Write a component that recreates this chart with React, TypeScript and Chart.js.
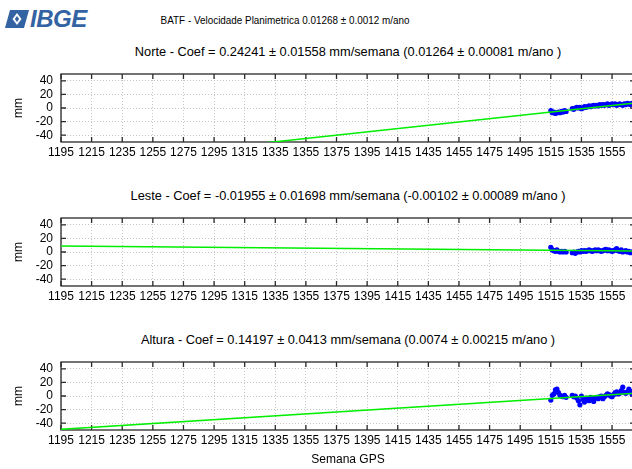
import React, { useEffect, useRef } from "react";
import { Chart, registerables } from "chart.js";

Chart.register(...registerables);

const FONT = "'Liberation Sans', Arial, Helvetica, sans-serif";

const weeks = [
  1515, 1516, 1517, 1518, 1519, 1520, 1521, 1522, 1523, 1524, 1525,
  1529, 1530, 1531, 1532, 1533, 1534, 1535, 1536, 1537, 1538,
  1539, 1540, 1541, 1542, 1543, 1544, 1545, 1546, 1547, 1548,
  1549, 1550, 1551, 1552, 1553, 1554, 1555, 1556, 1557, 1558,
  1559, 1560, 1561, 1562, 1563, 1564, 1565, 1566, 1567, 1568,
  1569, 1570,
];

const norte = [
  -4, -7, -6, -8, -7, -6, -7, -5, -6, -4, -5,
  -1, -2, 0, 1, 0, 1, -1, 0, 2, 1,
  2, 3, 2, 3, 4, 3, 4, 3, 5, 4,
  5, 4, 5, 6, 4, 5, 6, 5, 6, 4,
  5, 6, 5, 4, 6, 5, 7, 6, 5, 7,
  6, 7,
];

const leste = [
  7, 3, 2, 1, 3, 1, 0, 1, 0, 1, 0,
  -1, 0, -2, 0, 1, 0, 2, 1, 2, 1,
  2, 3, 2, 1, 2, 3, 2, 3, 2, 1,
  2, 3, 4, 2, 3, 2, 1, 2, 3, 5,
  2, 1, 3, 0, 1, 2, 0, 1, -1, 0,
  1, 0,
];

const altura = [
  -6, 1, 3, 9, 10, 5, 1, 0, -1, 1, -2,
  1, -1, 0, -3, -7, -13, 0, -5, -9, -3,
  -5, -7, -2, -4, -8, -3, -2, -4, -1, 0,
  -4, -1, 1, 3, 2, 0, -1, 2, 5, 6,
  3, 4, 8, 13, 5, 4, 6, 10, 7, 3,
  5, 4,
];

const fitWeeks = [1195, 1570];
const norteFit = [-83.6, 7.3];
const lesteFit = [8.7, 1.4];
const alturaFit = [-49, 4.2];

const xTicks = [
  1195, 1215, 1235, 1255, 1275, 1295, 1315, 1335, 1355, 1375,
  1395, 1415, 1435, 1455, 1475, 1495, 1515, 1535, 1555,
];
const yTicks = [-40, -20, 0, 20, 40];
const X_MIN = 1195;
const X_MAX = 1570;
const Y_MIN = -50;
const Y_MAX = 50;

const mainTitle = "BATF - Velocidade Planimetrica 0.01268 \u00b1 0.0012 m/ano";
const panelTitles = [
  "Norte - Coef = 0.24241 \u00b1 0.01558 mm/semana (0.01264 \u00b1 0.00081 m/ano )",
  "Leste - Coef = -0.01955 \u00b1 0.01698 mm/semana (-0.00102 \u00b1 0.00089 m/ano )",
  "Altura - Coef = 0.14197 \u00b1 0.0413 mm/semana (0.0074 \u00b1 0.00215 m/ano )",
];

const CANVAS_W = 645;
const PAD_TOP = 6;
const PLOT_H = 68;
const TICK_LEN = 5;

const framePlugin = {
  id: "gnuFrame",
  beforeDatasetsDraw(chart: any) {
    const { ctx, chartArea, scales } = chart;
    const { left, right, top, bottom } = chartArea;
    const x = scales.x;
    const y = scales.y;
    ctx.save();
    ctx.strokeStyle = "#2a2a2a";
    ctx.lineWidth = 1.3;
    ctx.strokeRect(left, top, right - left, bottom - top);
    ctx.beginPath();
    xTicks.forEach((v) => {
      const px = x.getPixelForValue(v);
      ctx.moveTo(px, bottom);
      ctx.lineTo(px, bottom - TICK_LEN);
      ctx.moveTo(px, top);
      ctx.lineTo(px, top + TICK_LEN);
    });
    yTicks.forEach((v) => {
      const py = y.getPixelForValue(v);
      ctx.moveTo(left, py);
      ctx.lineTo(left + TICK_LEN, py);
      ctx.moveTo(right, py);
      ctx.lineTo(right - TICK_LEN, py);
    });
    ctx.stroke();
    ctx.restore();
  },
};

type PanelProps = {
  top: number;
  values: number[];
  fit: number[];
  xTitle?: string;
};

function Panel({ top, values, fit, xTitle }: PanelProps) {
  const ref = useRef<HTMLCanvasElement | null>(null);
  const xh = xTitle ? 40 : 22;
  const height = PAD_TOP + PLOT_H + xh;

  useEffect(() => {
    if (!ref.current) return;
    const chart = new Chart(ref.current, {
      type: "scatter",
      data: {
        datasets: [
          {
            data: weeks.map((w, i) => ({ x: w, y: values[i] })),
            pointRadius: 2.6,
            pointBackgroundColor: "#0000ff",
            pointBorderColor: "#0000ff",
            pointBorderWidth: 0,
            showLine: false,
            order: 1,
          } as any,
          {
            data: fitWeeks.map((w, i) => ({ x: w, y: fit[i] })),
            showLine: true,
            borderColor: "#00ee00",
            borderWidth: 1.5,
            pointRadius: 0,
            order: 0,
          } as any,
        ],
      },
      options: {
        animation: false,
        responsive: false,
        devicePixelRatio: 1,
        layout: { padding: { left: 0, right: CANVAS_W - 635, top: PAD_TOP, bottom: 0 } },
        plugins: { legend: { display: false }, tooltip: { enabled: false } },
        scales: {
          x: {
            type: "linear",
            min: X_MIN,
            max: X_MAX,
            afterBuildTicks: (a: any) => {
              a.ticks = xTicks.map((v) => ({ value: v }));
            },
            afterFit: (a: any) => {
              a.height = xh;
              a.paddingLeft = 0;
              a.paddingRight = 0;
            },
            ticks: {
              autoSkip: false,
              maxRotation: 0,
              minRotation: 0,
              padding: 3,
              color: "#000",
              font: { family: FONT, size: 12 },
              callback: (v: any) => String(v),
            },
            grid: { color: "#c4c4c4", lineWidth: 1, drawTicks: false },
            border: { display: false, dash: [1, 2] },
            title: xTitle
              ? {
                  display: true,
                  text: xTitle,
                  color: "#000",
                  font: { family: FONT, size: 12 },
                  padding: { top: 0, bottom: 3 },
                }
              : { display: false },
          },
          y: {
            type: "linear",
            min: Y_MIN,
            max: Y_MAX,
            afterBuildTicks: (a: any) => {
              a.ticks = yTicks.map((v) => ({ value: v }));
            },
            afterFit: (a: any) => {
              a.width = 61;
              a.paddingTop = 0;
              a.paddingBottom = 0;
            },
            ticks: {
              autoSkip: false,
              padding: 8,
              color: "#000",
              font: { family: FONT, size: 12 },
              callback: (v: any) => String(v),
            },
            grid: { color: "#c4c4c4", lineWidth: 1, drawTicks: false },
            border: { display: false, dash: [1, 2] },
            title: {
              display: true,
              text: "mm",
              color: "#000",
              font: { family: FONT, size: 12 },
              padding: { top: 11, bottom: 0 },
            },
          },
        },
      } as any,
      plugins: [framePlugin],
    });
    return () => chart.destroy();
  }, []);

  return (
    <canvas
      ref={ref}
      width={CANVAS_W}
      height={height}
      style={{ position: "absolute", left: 0, top, display: "block" }}
    />
  );
}

function TextAt({ x, y, size, sx = 1, children }: { x: number; y: number; size: number; sx?: number; children: React.ReactNode }) {
  return (
    <div
      style={{
        position: "absolute",
        left: x,
        top: y,
        transform: `translate(-50%, -50%) scaleX(${sx})`,
        whiteSpace: "nowrap",
        fontFamily: FONT,
        fontSize: size,
        lineHeight: 1,
        color: "#000",
      }}
    >
      {children}
    </div>
  );
}

export default function App() {
  const plotTops = [74, 218, 362];
  return (
    <div
      style={{
        position: "fixed",
        left: 0,
        top: 0,
        width: 632,
        height: 469,
        overflow: "hidden",
        background: "#fff",
      }}
    >
      <div style={{ position: "absolute", left: 5, top: 9, display: "flex", alignItems: "center", height: 20 }}>
        <svg width="24" height="18" viewBox="0 0 24 18">
          <path d="M5 0 L24 0 L19 18 L0 18 Z" fill="#3463a3" />
          <path d="M12 3 L16.5 9 L12 15 L7.5 9 Z" fill="#fff" />
          <path d="M12 6 L14.2 9 L12 12 L9.8 9 Z" fill="#3463a3" />
        </svg>
        <span
          style={{
            display: "inline-block",
            fontFamily: FONT,
            fontWeight: "bold",
            fontStyle: "italic",
            fontSize: 24,
            lineHeight: "20px",
            color: "#3463a3",
            marginLeft: 1,
            letterSpacing: -0.5,
          }}
        >
          IBGE
        </span>
      </div>
      <TextAt x={285} y={21} size={11.5} sx={0.86}>
        {mainTitle}
      </TextAt>
      {panelTitles.map((t, i) => (
        <TextAt key={i} x={348} y={plotTops[i] - 22} size={12.8}>
          {t}
        </TextAt>
      ))}
      <Panel top={plotTops[0] - PAD_TOP} values={norte} fit={norteFit} />
      <Panel top={plotTops[1] - PAD_TOP} values={leste} fit={lesteFit} />
      <Panel top={plotTops[2] - PAD_TOP} values={altura} fit={alturaFit} xTitle="Semana GPS" />
    </div>
  );
}
